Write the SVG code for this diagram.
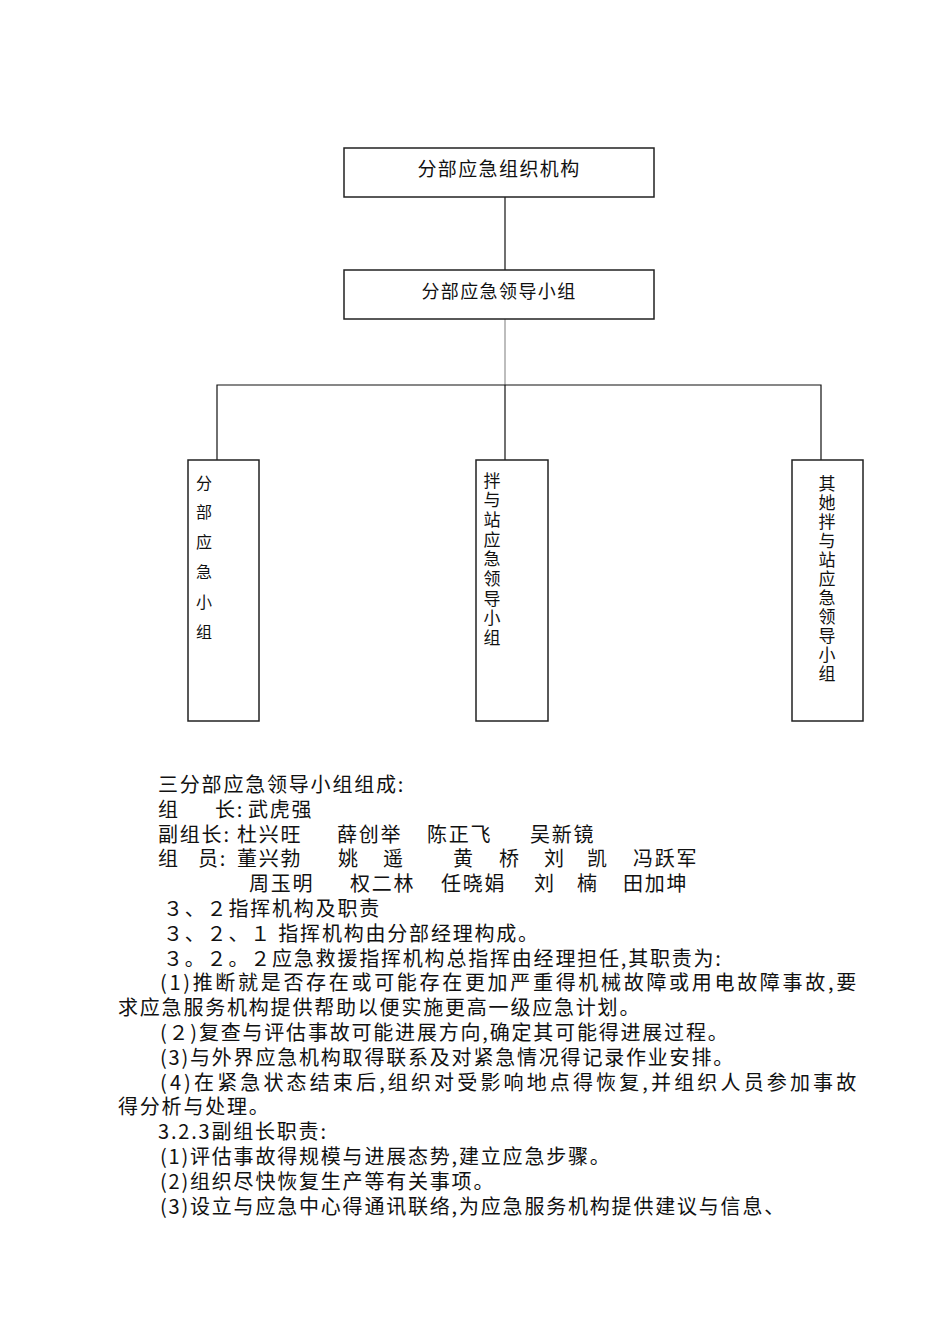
<svg xmlns="http://www.w3.org/2000/svg" width="950" height="1344" viewBox="0 0 950 1344">
<style>
.box{fill:#fff;stroke:#222;stroke-width:1.5}
.ln{stroke:#111;stroke-width:1.2;fill:none}
.gl{stroke:#bdbdbd;stroke-width:2;fill:none}
.t{font-family:"Noto Sans CJK SC","Noto Sans",sans-serif;fill:#111}
.h{font-size:19px;letter-spacing:1.4px;text-anchor:middle}
.v16{font-size:16px;text-anchor:middle}
.v17{font-size:17px;text-anchor:middle}
.p{font-size:20px;letter-spacing:1.8px}
</style>
<rect width="950" height="1344" fill="#fff"/>
<g id="connectors">
<line class="ln" x1="505" y1="197" x2="505" y2="270"/>
<line class="gl" x1="505" y1="319" x2="505" y2="385"/>
<polyline class="ln" points="217,460 217,385 821,385 821,460"/>
<line class="ln" x1="505" y1="385" x2="505" y2="460"/>
</g>
<g id="node-org">
<rect class="box" x="344" y="148" width="310" height="49"/>
<text class="t h" x="499" y="176">分部应急组织机构</text>
</g>
<g id="node-leader">
<rect class="box" x="344" y="270" width="310" height="49"/>
<text class="t h" x="499" y="298" style="font-size:18px">分部应急领导小组</text>
</g>
<g id="node-a">
<rect class="box" x="188" y="460" width="71" height="261"/>
<text class="t v16"><tspan x="204" y="489">分</tspan><tspan x="204" y="518">部</tspan><tspan x="204" y="548">应</tspan><tspan x="204" y="578">急</tspan><tspan x="204" y="608">小</tspan><tspan x="204" y="638">组</tspan></text>
</g>
<g id="node-b">
<rect class="box" x="476" y="460" width="72" height="261"/>
<text class="t v17"><tspan x="492" y="486.5">拌</tspan><tspan x="492" y="506.2">与</tspan><tspan x="492" y="525.9">站</tspan><tspan x="492" y="545.6">应</tspan><tspan x="492" y="565.3">急</tspan><tspan x="492" y="585">领</tspan><tspan x="492" y="604.7">导</tspan><tspan x="492" y="624.4">小</tspan><tspan x="492" y="644.1">组</tspan></text>
</g>
<g id="node-c">
<rect class="box" x="792" y="460" width="71" height="261"/>
<text class="t v17"><tspan x="827" y="489.5">其</tspan><tspan x="827" y="508.5">她</tspan><tspan x="827" y="527.5">拌</tspan><tspan x="827" y="546.5">与</tspan><tspan x="827" y="565.5">站</tspan><tspan x="827" y="584.5">应</tspan><tspan x="827" y="603.5">急</tspan><tspan x="827" y="622.5">领</tspan><tspan x="827" y="641.5">导</tspan><tspan x="827" y="660.5">小</tspan><tspan x="827" y="679.5">组</tspan></text>
</g>
<g id="body-text" class="t p">
<text x="158" y="792">三分部应急领导小组组成:</text>
<text x="158" y="816.8">组</text><text x="215" y="816.8">长:</text><text x="248" y="816.8">武虎强</text>
<text x="158" y="841.6">副组长:</text><text x="237" y="841.6">杜兴旺</text><text x="337" y="841.6">薛创举</text><text x="427" y="841.6">陈正飞</text><text x="530" y="841.6">吴新镜</text>
<text x="158" y="866.4">组</text><text x="198" y="866.4">员:</text><text x="237" y="866.4">董兴勃</text><text x="338" y="866.4">姚</text><text x="383" y="866.4">遥</text><text x="453" y="866.4">黄</text><text x="499" y="866.4">桥</text><text x="544" y="866.4">刘</text><text x="587" y="866.4">凯</text><text x="633" y="866.4">冯跃军</text>
<text x="249" y="891.2">周玉明</text><text x="350" y="891.2">权二林</text><text x="441" y="891.2">任晓娟</text><text x="534" y="891.2">刘</text><text x="577" y="891.2">楠</text><text x="623" y="891.2">田加坤</text>
<text x="163" y="916">３、２指挥机构及职责</text>
<text x="163" y="940.8">３、２、１ 指挥机构由分部经理构成。</text>
<text x="163" y="965.6">３。２。２应急救援指挥机构总指挥由经理担任,其职责为:</text>
<text x="160" y="990.4" textLength="698" lengthAdjust="spacing">(1)推断就是否存在或可能存在更加严重得机械故障或用电故障事故,要</text>
<text x="118" y="1015.2">求应急服务机构提供帮助以便实施更高一级应急计划。</text>
<text x="160" y="1040">(２)复查与评估事故可能进展方向,确定其可能得进展过程。</text>
<text x="160" y="1064.8">(3)与外界应急机构取得联系及对紧急情况得记录作业安排。</text>
<text x="160" y="1089.6" textLength="698" lengthAdjust="spacing">(4)在紧急状态结束后,组织对受影响地点得恢复,并组织人员参加事故</text>
<text x="118" y="1114.4">得分析与处理。</text>
<text x="158" y="1139.2">3.2.3副组长职责:</text>
<text x="160" y="1164">(1)评估事故得规模与进展态势,建立应急步骤。</text>
<text x="160" y="1188.8">(2)组织尽快恢复生产等有关事项。</text>
<text x="160" y="1213.6">(3)设立与应急中心得通讯联络,为应急服务机构提供建议与信息、</text>
</g>
</svg>
